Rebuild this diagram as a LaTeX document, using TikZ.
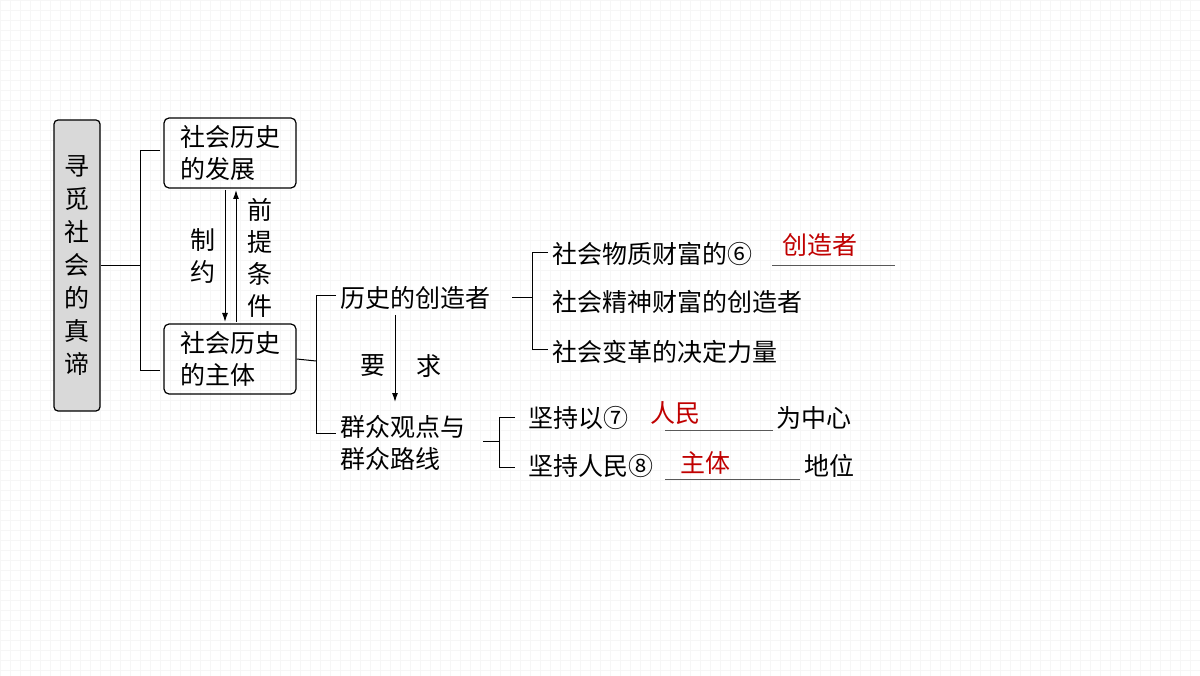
\documentclass[tikz,border=0pt]{standalone}
\usepackage{fontspec}
\setmainfont{Noto Sans CJK SC}
\usetikzlibrary{positioning}
\definecolor{boxgray}{RGB}{217,217,217}
\definecolor{ansred}{RGB}{192,0,0}
\tikzset{
  txt/.style={anchor=west,inner sep=0pt,font=\fontsize{25pt}{32pt}\selectfont},
  ans/.style={txt,text=ansred},
  box/.style={draw,rounded corners=5pt,line width=1.2pt,minimum width=132pt,minimum height=70pt,
    align=left,font=\fontsize{25pt}{32pt}\selectfont,inner sep=4pt},
  ln/.style={line width=1pt},
  arr/.style={line width=1pt,-{Latex[length=9pt,width=6pt]}}
}
\usetikzlibrary{arrows.meta}
\begin{document}
\begin{tikzpicture}[x=1pt,y=-1pt]
\useasboundingbox (0,0) rectangle (1200,676);
\fill[white] (0,0) rectangle (1200,676);
\draw[gray!7,step=10pt] (0,0) grid (1200,676);

% left title
\node[draw,rounded corners=4pt,fill=boxgray,line width=1.2pt,minimum width=46pt,minimum height=291pt,
  align=center,font=\fontsize{25pt}{33pt}\selectfont,inner sep=2pt] (title) at (77,265.5)
  {寻\\觅\\社\\会\\的\\真\\谛};

% two boxes
\node[box] (dev) at (230,153) {社会历史\\的发展};
\node[box] (subj) at (230,359) {社会历史\\的主体};
\draw[ln] (title.east) -- (140,265.5) coordinate (b1);
\draw[ln] (160,151) -| (140,371) -- (160,371);
\draw[arr] (225,190) -- (225,322);
\draw[arr] (236,322) -- (236,190);
\node[font=\fontsize{25pt}{32pt}\selectfont,align=center] (zy) at (203,256) {制\\约};
\node[font=\fontsize{25pt}{32pt}\selectfont,align=center] (qt) at (260,258) {前\\提\\条\\件};

% creators
\draw[ln] (subj.east) -- (316,361);
\draw[ln] (336,296) -| (316,433) -- (336,433);
\node[txt] (cre) at (340,298) {历史的创造者};
\node[txt,align=left] (mass) at (340,443) {群众观点与\\群众路线};
\draw[arr] (395,315) -- (395,402);
\node[txt] (yao) at (360,366) {要};
\node[txt] (qiu) at (416,366) {求};

% creator items
\draw[ln] (512,298) -- (532,298);
\draw[ln] (548,253) -| (532,350) -- (548,350);
\node[txt] (c1) at (552,254) {社会物质财富的⑥};
\node[txt] (c2) at (552,302) {社会精神财富的创造者};
\node[txt] (c3) at (552,352) {社会变革的决定力量};
\draw[ln,gray!70!black] (772,266) -- (895,266);
\node[ans] (a6) at (782,245) {创造者};

% mass items
\draw[ln] (483,441) -- (499,441);
\draw[ln] (515,417) -| (499,467) -- (515,467);
\node[txt] (m1) at (528,418) {坚持以⑦};
\draw[ln,gray!70!black] (665,430) -- (773,430);
\node[ans] (a7) at (650,413) {人民};
\node[txt] (m1b) at (776,418) {为中心};
\node[txt] (m2) at (528,466) {坚持人民⑧};
\draw[ln,gray!70!black] (665,479) -- (800,479);
\node[ans] (a8) at (680,463) {主体};
\node[txt] (m2b) at (804,466) {地位};
\end{tikzpicture}
\end{document}
